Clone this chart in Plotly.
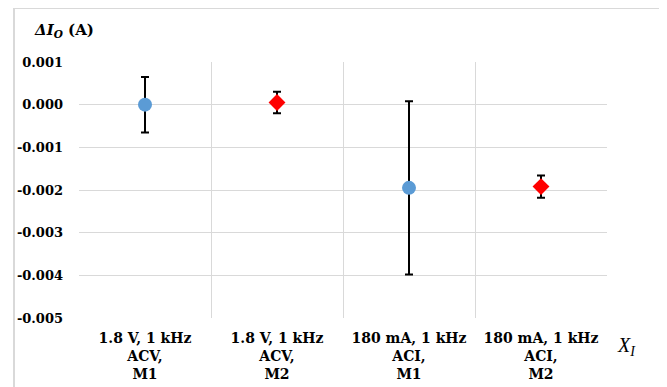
import plotly.graph_objects as go

categories = ["1.8 V, 1 kHz<br>ACV,<br>M1", "1.8 V, 1 kHz<br>ACV,<br>M2",
              "180 mA, 1 kHz<br>ACI,<br>M1", "180 mA, 1 kHz<br>ACI,<br>M2"]
m1_pos = [1, 3]
m1_values = [0.0000, -0.00195]
m1_errors = [0.00065, 0.00203]
m2_pos = [2, 4]
m2_values = [0.00005, -0.00192]
m2_errors = [0.00025, 0.00026]
y_ticks = [0.001, 0.000, -0.001, -0.002, -0.003, -0.004, -0.005]

font = "DejaVu Serif"
ital_font = "Liberation Serif"
grid = "#D9D9D9"

fig = go.Figure()
fig.add_trace(go.Scatter(
    x=m1_pos, y=m1_values, mode="markers",
    marker=dict(symbol="circle", size=14, color="#5B9BD5"),
    error_y=dict(type="data", array=m1_errors, visible=True, color="black", thickness=2, width=4),
    showlegend=False))
fig.add_trace(go.Scatter(
    x=m2_pos, y=m2_values, mode="markers",
    marker=dict(symbol="diamond", size=13, color="#FF0000"),
    error_y=dict(type="data", array=m2_errors, visible=True, color="black", thickness=2, width=4),
    showlegend=False))

fig.update_layout(
    width=659, height=379,
    margin=dict(l=71, r=60, t=54, b=69),
    paper_bgcolor="white", plot_bgcolor="white",
    font=dict(family=font, size=14, color="black"),
    xaxis=dict(range=[0.5, 4.5], tickvals=[1, 2, 3, 4], ticktext=["<b>%s</b>" % c for c in categories],
               showgrid=False, zeroline=False, showline=False, ticks="", automargin=False,
               ticklabelstandoff=10, tickfont=dict(family=font, size=14),
               minor=dict(tickvals=[0.5, 1.5, 2.5, 3.5, 4.5], showgrid=True, gridcolor=grid, gridwidth=1, ticks="")),
    yaxis=dict(range=[-0.005, 0.001], tickvals=y_ticks, ticktext=["<b>%.3f</b>" % v for v in y_ticks],
               showgrid=True, gridcolor=grid, gridwidth=1, zeroline=False, showline=False, ticks="",
               automargin=False, ticklabelstandoff=15, tickfont=dict(family=font, size=13)),
    annotations=[
        dict(text="<b><i>ΔI<sub>O</sub></i> (A)</b>", xref="paper", yref="paper", x=-0.089, y=1.125,
             xanchor="left", yanchor="middle", showarrow=False, font=dict(family=font, size=15)),
        dict(text="<i>X<sub>I</sub></i>", xref="paper", yref="paper", x=1.015, y=-0.11,
             xanchor="left", yanchor="middle", showarrow=False, font=dict(family=ital_font, size=20)),
    ],
    shapes=[dict(type="rect", xref="paper", yref="paper", x0=-0.1231, x1=1.106, y0=-0.4, y1=1.211,
                 line=dict(color=grid, width=2), fillcolor="rgba(0,0,0,0)", layer="below")],
)

fig.write_html("out.html")
